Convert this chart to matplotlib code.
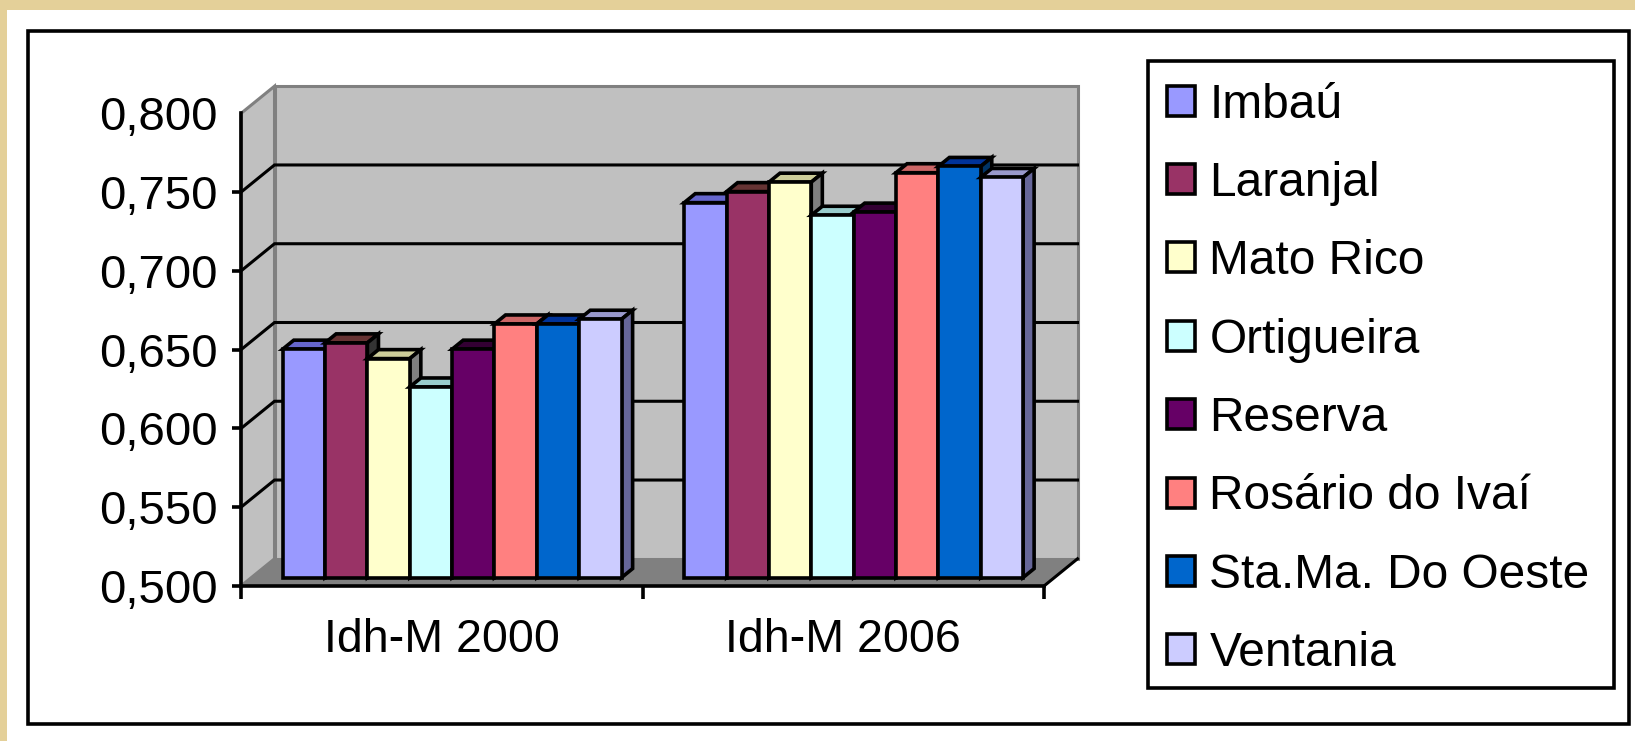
import matplotlib
matplotlib.use("Agg")
import matplotlib.pyplot as plt
from matplotlib.patches import Polygon, Rectangle

plt.rcParams['font.family'] = ['Liberation Sans', 'DejaVu Sans']

# data
categories = ["Idh-M 2000", "Idh-M 2006"]
municipios = ["Imbaú", "Laranjal", "Mato Rico", "Ortigueira", "Reserva",
              "Rosário do Ivaí", "Sta.Ma. Do Oeste", "Ventania"]
idh_2000 = [0.645, 0.649, 0.639, 0.621, 0.645, 0.661, 0.661, 0.664]
idh_2006 = [0.738, 0.745, 0.751, 0.730, 0.732, 0.757, 0.761, 0.754]
yticks = [0.50, 0.55, 0.60, 0.65, 0.70, 0.75, 0.80]

front_colors = ['#9999FF', '#993366', '#FFFFCC', '#CCFFFF', '#660066', '#FF8080', '#0066CC', '#CCCCFF']
top_colors = ['#6666CC', '#663333', '#CCCC99', '#99CCCC', '#330033', '#CC6666', '#003399', '#9999CC']
side_colors = ['#666699', '#333333', '#808080', '#669999', '#330033', '#993333', '#003366', '#666699']

W, H = 1635, 741
LW = 2.6

fig = plt.figure(figsize=(W / 100, H / 100), dpi=100, facecolor='#E4D099')


def fig_rect(x0, y0, x1, y1, **kw):
    # rectangle given in image pixels, y going down
    fig.add_artist(Rectangle((x0 / W, 1 - y1 / H), (x1 - x0) / W, (y1 - y0) / H,
                             transform=fig.transFigure, zorder=-5, **kw))


fig_rect(7, 9.5, W + 5, H + 5, facecolor='white', edgecolor='none')
fig_rect(28, 31, 1628.5, 724, facecolor='none', edgecolor='black', linewidth=LW)
fig_rect(1148, 60.5, 1614, 687.6, facecolor='none', edgecolor='black', linewidth=LW)

# front plane of the plot box
ax_l, ax_r, ax_t, ax_b = 241, 1044, 113.4, 586
ax = fig.add_axes([ax_l / W, 1 - ax_b / H, (ax_r - ax_l) / W, (ax_b - ax_t) / H])
ax.set_xlim(0, 2)
ax.set_ylim(0.5, 0.8)
ax.patch.set_visible(False)

# full depth of the box in data units
depth_x = 33.5 / ((ax_r - ax_l) / 2)
depth_y = 27.2 / ((ax_b - ax_t) / 0.3)


def poly(points, fc, ec, z, lw=LW):
    ax.add_patch(Polygon(points, closed=True, facecolor=fc, edgecolor=ec,
                         linewidth=lw, zorder=z, clip_on=False, joinstyle='miter'))


# walls and floor
poly([(depth_x, 0.5 + depth_y), (2 + depth_x, 0.5 + depth_y),
      (2 + depth_x, 0.8 + depth_y), (depth_x, 0.8 + depth_y)], '#C0C0C0', '#808080', 1, lw=2.2)
poly([(0, 0.5), (depth_x, 0.5 + depth_y), (depth_x, 0.8 + depth_y), (0, 0.8)], '#C0C0C0', '#808080', 1, lw=2.2)
poly([(0, 0.5), (2, 0.5), (2 + depth_x, 0.5 + depth_y), (depth_x, 0.5 + depth_y)], '#808080', 'none', 2)

for v in yticks[1:-1]:
    ax.plot([0, depth_x, 2 + depth_x], [v, v + depth_y, v + depth_y],
            color='black', lw=2.2, zorder=3, clip_on=False, solid_joinstyle='miter')
ax.plot([2, 2 + depth_x], [0.5, 0.5 + depth_y], color='black', lw=2.2, zorder=3, clip_on=False)

# bars, left to right so nearer ones cover the sides of the previous
bar_w = 0.1055
near = 0.31
far = 0.64
group_w = bar_w * len(municipios)
z = 10
for g, values in enumerate([idh_2000, idh_2006]):
    start = g + 0.5 - group_w / 2
    for i, v in enumerate(values):
        x0 = start + i * bar_w + near * depth_x
        x1 = x0 + bar_w
        base = 0.5 + near * depth_y
        top = v + near * depth_y
        dx = (far - near) * depth_x
        dy = (far - near) * depth_y
        poly([(x0, top), (x1, top), (x1 + dx, top + dy), (x0 + dx, top + dy)], top_colors[i], 'black', z)
        poly([(x1, base), (x1 + dx, base + dy), (x1 + dx, top + dy), (x1, top)], side_colors[i], 'black', z)
        ax.bar(x0, v - 0.5, width=bar_w, bottom=base, align='edge', color=front_colors[i],
               edgecolor='black', linewidth=LW, zorder=z + 1, clip_on=False,
               label=municipios[i] if g == 0 else None)
        z += 2

# axes
for s in ['top', 'right']:
    ax.spines[s].set_visible(False)
for s in ['left', 'bottom']:
    ax.spines[s].set_linewidth(LW)
    ax.spines[s].set_zorder(5)

ax.set_yticks(yticks)
ax.set_yticklabels([f"{v:.3f}".replace('.', ',') for v in yticks], fontsize=34)
ax.tick_params(axis='y', length=6.5, width=LW, pad=10)
ax.yaxis.get_major_ticks()[-1].tick1line.set_visible(False)

ax.set_xticks([0, 1, 2])
ax.set_xticklabels([])
ax.tick_params(axis='x', which='major', length=9.5, width=LW)
ax.set_xticks([0.5, 1.5], minor=True)
ax.set_xticklabels(categories, minor=True, fontsize=33.5)
ax.tick_params(axis='x', which='minor', length=0, pad=23)

# legend
leg = ax.legend(loc='upper left', bbox_to_anchor=(1148 / W, 1 - 64 / H),
                bbox_transform=fig.transFigure, fontsize=34.5, frameon=False,
                borderaxespad=0, handlelength=0.6, handleheight=0.585,
                handletextpad=0.29, labelspacing=0.696, borderpad=0.39)
leg.set_zorder(100)

fig.savefig("out.png", dpi=100, facecolor=fig.get_facecolor())
